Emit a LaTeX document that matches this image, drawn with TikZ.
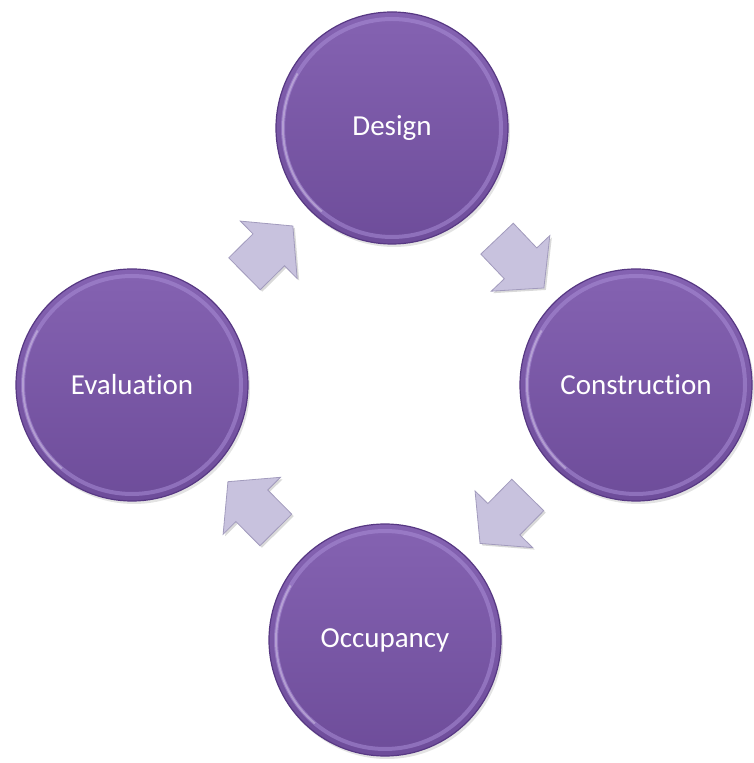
\documentclass[tikz,border=0pt]{standalone}
\usepackage{fontspec}
\setmainfont{Carlito}[Ligatures=NoCommon]
\usepackage{tikz}
\usetikzlibrary{shapes.arrows,shadows,calc}
\definecolor{cycPurple}{HTML}{7A55AB}
\definecolor{cycPurpleDk}{HTML}{573883}
\definecolor{cycPurpleLt}{HTML}{A98DD6}
\definecolor{cycLilac}{HTML}{C8C2DE}
\definecolor{cycLilacDk}{HTML}{A29BBD}

\begin{document}
\begin{tikzpicture}[x=1pt, y=1pt,
  phase/.style={circle, minimum size=232pt, inner sep=0pt, draw=cycPurpleDk, line width=1.2pt,
    top color=cycPurple!92!white, bottom color=cycPurple!90!black, text=white,
    font=\fontsize{29}{34}\selectfont,
    drop shadow={opacity=0.22, shadow xshift=2pt, shadow yshift=-3pt}},
  flow/.style={single arrow, sloped, allow upside down, minimum height=68pt,
    inner xsep=0pt, inner ysep=22pt,
    single arrow head extend=18pt, single arrow tip angle=100,
    fill=cycLilac, draw=cycLilacDk, line width=0.8pt,
    drop shadow={opacity=0.3, shadow xshift=2pt, shadow yshift=-2pt}}]
\useasboundingbox (0,0) rectangle (753,763);
% ---------- the four phases ----------
\node[phase] (design) at (392,635) {Design};
\node[phase] (constr) at (636,378) {Construction};
\node[phase] (occup)  at (385,123) {Occupancy};
\node[phase] (evalu)  at (132,378) {Evaluation};
% ---------- bevel rim ----------
\foreach \n in {design,constr,occup,evalu}{
  \draw[cycPurpleLt, line width=4pt, opacity=0.55] (\n.center) circle (109);
  \draw[white, line width=2pt, opacity=0.3] (\n.center) ++(150:109) arc (150:230:109);
}
% ---------- arrows between phases ----------
\path (evalu) -- (design) node[flow, midway] (evaldes) {};
\path (design) -- (constr) node[flow, midway] (descon) {};
\path (constr) -- (occup) node[flow, midway] (conocc) {};
\path (occup) -- (evalu) node[flow, midway] (occeval) {};
\end{tikzpicture}
\end{document}
